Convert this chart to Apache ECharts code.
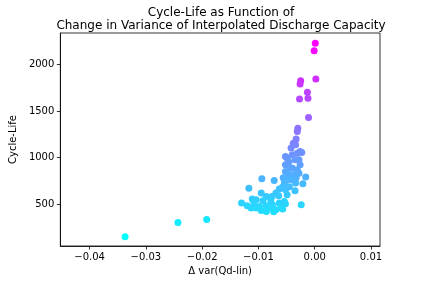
<!DOCTYPE html>
<html><head><meta charset="utf-8">
<script src="https://cdn.jsdelivr.net/npm/echarts@6/dist/echarts.min.js"></script>
<style>html,body{margin:0;padding:0;background:#fff}#c{width:423px;height:282px}</style>
</head><body><div id="c"></div>
<script>
var deltaVar = [-0.0337,-0.0243,-0.0192,0.0001,-0.0001,0.0002,-0.0025,-0.0026,-0.0013,-0.0027,-0.0012,-0.0011,-0.0030,-0.0031,-0.0038,-0.0034,-0.0026,-0.0023,-0.0049,-0.0040,-0.0031,-0.0052,-0.0028,-0.0026,-0.0031,-0.0043,-0.0052,-0.0046,-0.0037,-0.0028,-0.0016,-0.0021,-0.0034,-0.0040,-0.0049,-0.0054,-0.0035,-0.0052,-0.0057,-0.0063,-0.0072,-0.0094,-0.0117,-0.0069,-0.0076,-0.0086,-0.0095,-0.0104,-0.0111,-0.0130,-0.0113,-0.0098,-0.0086,-0.0075,-0.0063,-0.0054,-0.0024,-0.0069,-0.0081,-0.0095,-0.0104,-0.0060,-0.0086,-0.0057,-0.0052,-0.0046,-0.0040,-0.0035,-0.0045,-0.0064,-0.0078,-0.0092,-0.0120,-0.0073,-0.0049,-0.0056,-0.0033,-0.0042,-0.0033,-0.0052,-0.0108];
var cycleLife = [148,301,333,2230,2150,1846,1828,1792,1703,1631,1639,1430,1316,1280,1155,1137,1065,1054,994,1029,1047,922,976,922,868,886,850,814,814,832,790,718,725,761,761,725,642,653,682,661,753,771,671,618,581,581,618,546,553,510,456,474,481,492,510,527,492,438,456,430,456,456,420,445,1011,954,889,976,685,588,534,534,481,416,599,782,782,1104,1201,502,513];
var xTicks = [-0.04,-0.03,-0.02,-0.01,0.00,0.01];
var yTicks = [500,1000,1500,2000];

var pts = deltaVar.map(function(x,i){return [x,cycleLife[i]];});
var chart = echarts.init(document.getElementById('c'));
var F = 'DejaVu Sans';
chart.setOption({
  animation:false,
  title:{text:'Cycle-Life as Function of\nChange in Variance of Interpolated Discharge Capacity',
    left:216,textAlign:'center',top:1,
    textStyle:{fontFamily:F,fontSize:12,fontWeight:'normal',color:'#000',lineHeight:13}},
  grid:{left:53,right:43,top:33,bottom:36,show:true,borderColor:'#000',borderWidth:0.8},
  visualMap:{show:false,dimension:1,min:148,max:2230,inRange:{color:['#00ffff','#ff00ff']}},
  xAxis:{type:'value',min:-0.0452,max:0.0116,
    name:'\u0394 var(Qd-lin)',nameLocation:'middle',nameGap:19,
    nameTextStyle:{fontFamily:F,fontSize:10,color:'#000'},
    splitLine:{show:false},
    axisLine:{show:true,onZero:false,lineStyle:{color:'#000',width:0.8}},
    axisTick:{show:true,length:3.5,inside:false,customValues:xTicks,lineStyle:{color:'#000',width:0.8}},
    axisLabel:{margin:6,customValues:xTicks,fontFamily:F,fontSize:10,color:'#000',
      formatter:function(v){return v.toFixed(2).replace('-','\u2212');}}},
  yAxis:{type:'value',min:48,max:2341,
    name:'Cycle-Life',nameLocation:'middle',nameGap:36,
    nameTextStyle:{fontFamily:F,fontSize:10,color:'#000'},
    splitLine:{show:false},
    axisLine:{show:true,onZero:false,lineStyle:{color:'#000',width:0.8}},
    axisTick:{show:true,length:3.5,customValues:yTicks,lineStyle:{color:'#000',width:0.8}},
    axisLabel:{margin:6,customValues:yTicks,fontFamily:F,fontSize:10,color:'#000',
      formatter:function(v){return String(v);}}},
  series:[{type:'scatter',data:pts,symbolSize:7,itemStyle:{opacity:1}}]
});
</script></body></html>
